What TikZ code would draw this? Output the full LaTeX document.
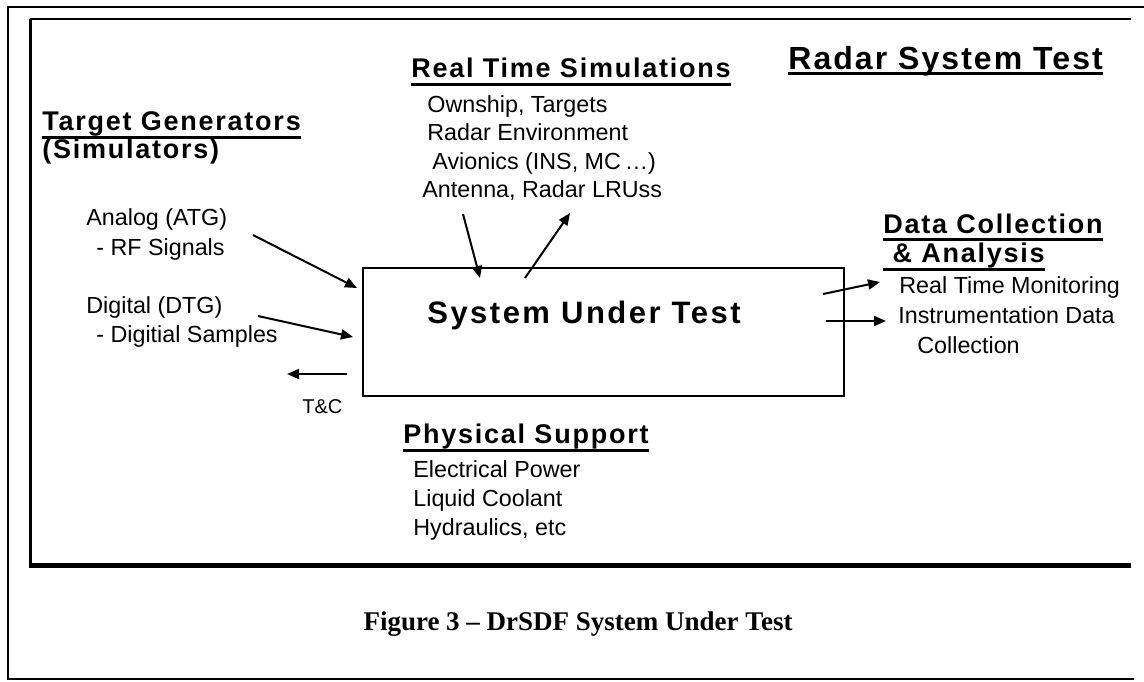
\documentclass[tikz,border=0pt]{standalone}
\usepackage{fontspec}
\setmainfont{Liberation Serif}
\newfontfamily\arial{Liberation Sans}
\newfontfamily\hdfont[LetterSpace=6.5]{Liberation Sans}
\newfontfamily\rstfont[LetterSpace=6.4]{Liberation Sans}
\newfontfamily\bigfont[LetterSpace=8]{Liberation Sans}
\usetikzlibrary{arrows.meta}
\tikzset{
  txt/.style={inner sep=0pt, anchor=base west, font=\arial\fontsize{11.65pt}{14pt}\selectfont},
  hd/.style={inner sep=0pt, anchor=base west, font=\hdfont\bfseries\fontsize{13.5pt}{16pt}\selectfont},
  big/.style={inner sep=0pt, anchor=base west, font=\bigfont\bfseries\fontsize{15.5pt}{18pt}\selectfont},
  ul/.style={line width=1.5pt},
  arr/.style={line width=1pt, -{Triangle[length=6pt,width=5pt]}},
  sutbox/.style={draw, line width=1.2pt, inner sep=0pt, minimum width=240.5pt, minimum height=64pt},
}
\begin{document}
\begin{tikzpicture}[x=0.5pt,y=-0.5pt]
\useasboundingbox (0,0) rectangle (1144,681);
% frames
\draw[line width=0.75pt] (1144,7) -- (8,7) -- (8,679) -- (1134,679);
\draw[line width=1pt] (1131,19) -- (30,19);
\draw[line width=1.5pt] (30,19) -- (30,565);
\draw[line width=2.5pt] (28.5,565.5) -- (1131,565.5);
% headers
\node[hd] (tg) at (42,130) {Target Generators};
\node[hd] (sim) at (42,158) {(Simulators)};
\draw[ul] ([yshift=-3.5pt]tg.base west) -- ([yshift=-3.5pt]tg.base east);
\node[hd] (rts) at (411,77) {Real Time Simulations};
\draw[ul] ([yshift=-3.5pt]rts.base west) -- ([yshift=-3.5pt]rts.base east);
\node[hd, font=\rstfont\bfseries\fontsize{16pt}{18pt}\selectfont] (rst) at (788,69) {Radar System Test};
\draw[ul] ([yshift=-2pt]rst.base west) -- ([yshift=-2pt]rst.base east);
\node[hd] (dc) at (883,233) {Data Collection};
\draw[ul] ([yshift=-3pt]dc.base west) -- ([yshift=-3pt]dc.base east);
\node[hd] (an) at (883,262) {\ \& Analysis};
\draw[ul] ([yshift=-3.5pt]an.base west) -- ([yshift=-3.5pt]an.base east);
\node[hd] (ps) at (403,443) {Physical Support};
\draw[ul] ([yshift=-3.5pt]ps.base west) -- ([yshift=-3.5pt]ps.base east);
% real time simulation items
\node[txt] (r1) at (427,112) {Ownship, Targets};
\node[txt] (r2) at (427,140) {Radar Environment};
\node[txt] (r3) at (432,169) {Avionics (INS, MC\,\ldots)};
\node[txt] (r4) at (422,197) {Antenna, Radar LRUss};
% target generator items
\node[txt] (ag) at (86,225) {Analog (ATG)};
\node[txt] (rf) at (96,255) {- RF Signals};
\node[txt] (dg) at (86,313) {Digital (DTG)};
\node[txt] (ds) at (96,342) {- Digitial Samples};
\node[txt, font=\arial\fontsize{10pt}{12pt}\selectfont] (tc) at (302,413) {T\&C};
% data collection items
\node[txt] (m1) at (899,293) {Real Time Monitoring};
\node[txt] (m2) at (898,323) {Instrumentation Data};
\node[txt] (m3) at (917,353) {Collection};
% physical support items
\node[txt] (p1) at (413,477) {Electrical Power};
\node[txt] (p2) at (413,506) {Liquid Coolant};
\node[txt] (p3) at (413,535) {Hydraulics, etc};
% system under test
\node[sutbox] (sut) at (603.5,332) {};
\node[big] (sutl) at (427,323) {System Under Test};
% caption
\node[inner sep=0pt, anchor=base, font=\bfseries\fontsize{13.5pt}{16pt}\selectfont] (cap) at (578,630) {Figure 3 -- DrSDF System Under Test};
% arrows
\coordinate (a1s) at (253,235); \coordinate (a1e) at (357,288);
\coordinate (a2s) at (258,316); \coordinate (a2e) at (353,337);
\coordinate (tcs) at (347,374); \coordinate (tce) at (287,374);
\coordinate (dns) at (463,214); \coordinate (dne) at (480,278);
\coordinate (ups) at (525,278); \coordinate (upe) at (570,213);
\coordinate (o1s) at (823,294); \coordinate (o1e) at (880,282);
\coordinate (o2s) at (826,321); \coordinate (o2e) at (886,321);
\draw[arr] (a1s) -- (a1e);
\draw[arr] (a2s) -- (a2e);
\draw[arr] (tcs) -- (tce);
\draw[arr] (dns) -- (dne);
\draw[arr] (ups) -- (upe);
\draw[arr] (o1s) -- (o1e);
\draw[arr] (o2s) -- (o2e);
\end{tikzpicture}
\end{document}
